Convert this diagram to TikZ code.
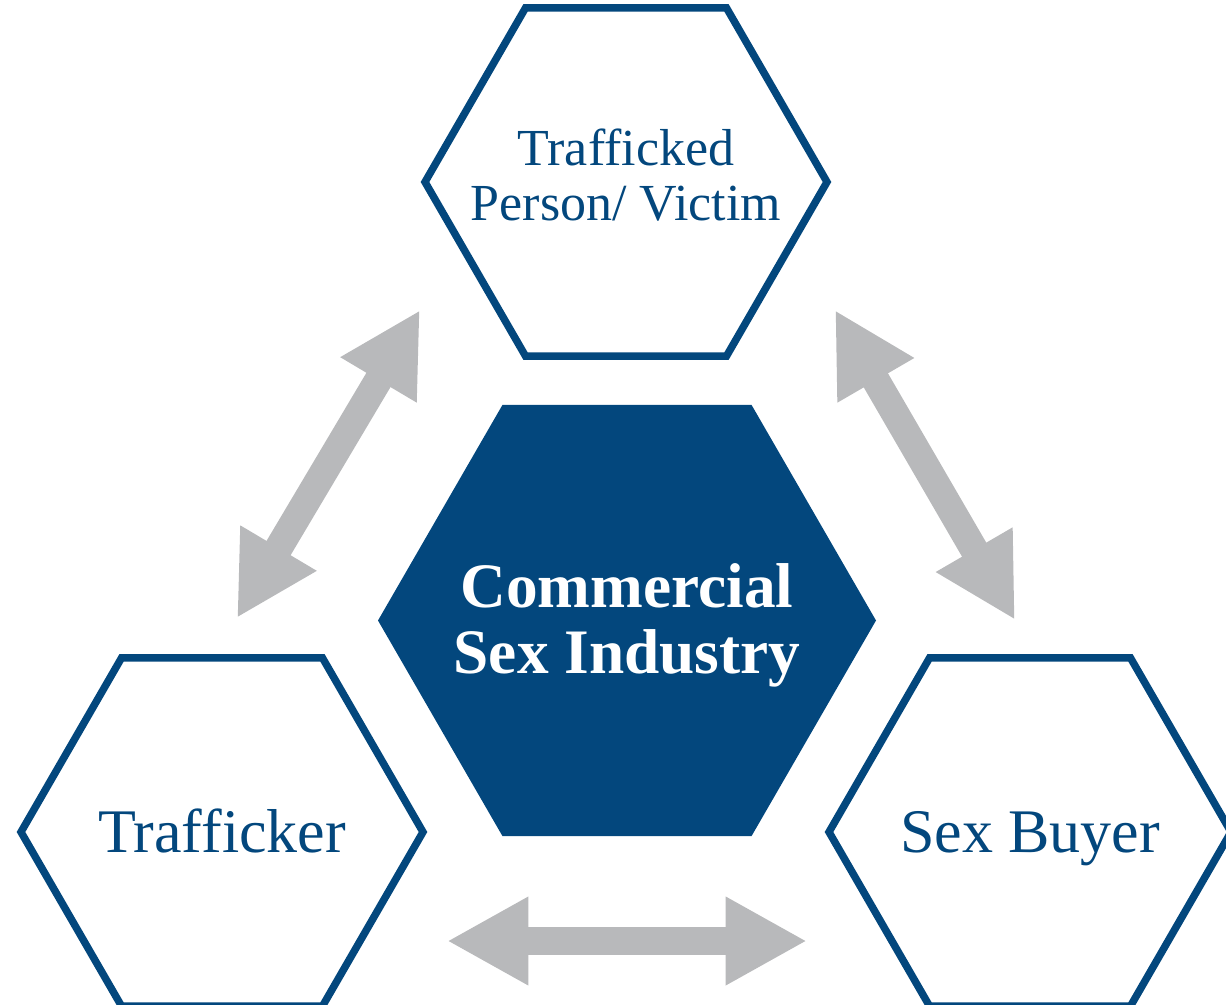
\documentclass[tikz,border=0pt]{standalone}
\usepackage{fontspec}
\setmainfont{Liberation Serif}
\usetikzlibrary{shapes.geometric,arrows.meta}

\definecolor{hexblue}{RGB}{3,71,125}
\definecolor{arrowgray}{RGB}{184,185,187}

\tikzset{every picture/.style={line width=0.75pt}}
\tikzset{
  hexline/.style={regular polygon,regular polygon sides=6,draw=hexblue,line width=5.6pt,
    minimum size=301.5pt,inner sep=0pt},
  hexfill/.style={regular polygon,regular polygon sides=6,fill=hexblue,
    minimum size=373.5pt,inner sep=0pt},
  bluetext/.style={text=hexblue,align=center,inner sep=0pt},
  whitetext/.style={text=white,align=center,inner sep=0pt},
  oneline/.style={text height=30.7pt,text depth=0pt},
  twoway/.style={draw=arrowgray,line width=21pt,
    {Triangle[length=61pt,width=62pt]}-{Triangle[length=61pt,width=62pt]}}
}

\begin{document}
\begin{tikzpicture}[x=0.75pt,y=0.75pt,yscale=-1,xscale=1]
%set diagram: 1226 x 1005
\path[use as bounding box] (0,0) rectangle (1226,1005);

%Shape: Hexagon (centre)
\node (industry) [hexfill,label={[whitetext,yshift=-4pt,font=\fontsize{47.5}{49.5}\selectfont\bfseries]center:Commercial\\Sex Industry}] at (627,620.5) {};
%Shape: Hexagon (top)
\node (victim) [hexline,label={[bluetext,yshift=5pt,font=\fontsize{39}{41.5}\selectfont]center:Trafficked\\Person/ Victim}] at (626,182) {};
%Shape: Hexagon (bottom left)
\node (trafficker) [hexline,label={[bluetext,oneline,font=\fontsize{46.5}{50}\selectfont]center:Trafficker}] at (222,832) {};
%Shape: Hexagon (bottom right)
\node (buyer) [hexline,label={[bluetext,oneline,font=\fontsize{46.5}{50}\selectfont]center:Sex Buyer}] at (1030,832) {};

%Arrow ends
\coordinate (tv-up) at (420,310);
\coordinate (tv-down) at (237,618);
\coordinate (vb-up) at (835,310);
\coordinate (vb-down) at (1015,620);
\coordinate (tb-left) at (447,941);
\coordinate (tb-right) at (807,941);

%Straight Lines
\draw [twoway] (tv-down) -- (tv-up);
\draw [twoway] (vb-up) -- (vb-down);
\draw [twoway] (tb-left) -- (tb-right);

\end{tikzpicture}
\end{document}
